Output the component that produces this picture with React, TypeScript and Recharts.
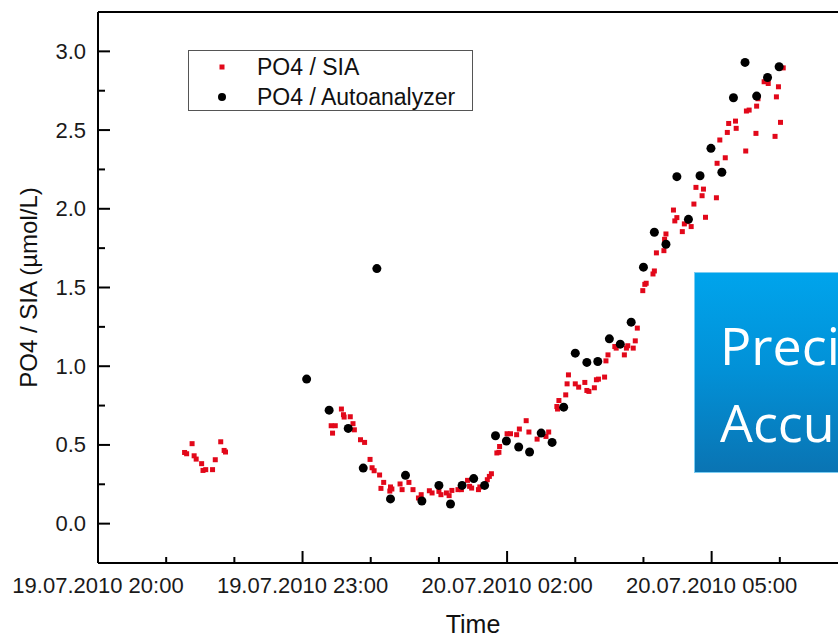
import React from 'react';
import { Legend, ReferenceLine, Scatter, ScatterChart, XAxis, YAxis } from 'recharts';

const FONT = '"Liberation Sans", Arial, Helvetica, sans-serif';
const RED = '#e2081a';

// hours after 19.07.2010 20:00
const siaTime = [
  1.27, 1.3, 1.38, 1.41, 1.44, 1.52, 1.54, 1.58, 1.68, 1.72, 1.8, 1.85, 1.87,
  3.42, 3.44, 3.48, 3.57, 3.6, 3.61, 3.7, 3.74, 3.76, 3.85, 3.91, 3.99, 4.02, 4.05,
  4.13, 4.15, 4.19, 4.28, 4.29, 4.31, 4.43, 4.46, 4.56, 4.62, 4.7, 4.74, 4.86, 4.9,
  5.0, 5.03, 5.11, 5.15, 5.19, 5.28, 5.33, 5.42, 5.45, 5.48, 5.58, 5.6, 5.71, 5.74,
  5.77, 5.85, 5.88, 5.89, 6.0, 6.05, 6.14, 6.18, 6.28, 6.32, 6.44, 6.57, 6.61, 6.73,
  6.74, 6.76, 6.86, 6.88, 6.9, 7.0, 7.05, 7.14, 7.17, 7.2, 7.28, 7.31, 7.34, 7.43,
  7.45, 7.48, 7.58, 7.6, 7.72, 7.75, 7.77, 7.85, 7.88, 7.91, 7.99, 8.02, 8.04, 8.14,
  8.16, 8.19, 8.3, 8.31, 8.33, 8.44, 8.46, 8.49, 8.57, 8.6, 8.64, 8.7, 8.74, 8.77,
  8.86, 8.88, 8.91, 9.07, 9.08, 9.12, 9.2, 9.23, 9.25, 9.35, 9.36, 9.5, 9.51, 9.55,
  9.65, 9.66, 9.68, 9.77, 9.8, 9.83, 9.93, 9.95, 9.98, 10.01, 10.05,
];
const siaValue = [
  0.452, 0.444, 0.508, 0.431, 0.41, 0.381, 0.338, 0.343, 0.343, 0.406, 0.52, 0.465, 0.455,
  0.622, 0.575, 0.622, 0.728, 0.692, 0.677, 0.679, 0.635, 0.596, 0.533, 0.516, 0.408, 0.355, 0.336,
  0.309, 0.224, 0.262, 0.207, 0.233, 0.22, 0.252, 0.216, 0.262, 0.216, 0.163, 0.184, 0.209, 0.195,
  0.205, 0.184, 0.195, 0.178, 0.211, 0.216, 0.216, 0.275, 0.237, 0.226, 0.216, 0.233, 0.279, 0.3,
  0.317, 0.449, 0.453, 0.49, 0.571, 0.571, 0.565, 0.601, 0.654, 0.582, 0.537, 0.554, 0.582, 0.744,
  0.728, 0.782, 0.818, 0.888, 0.945, 0.888, 0.867, 0.897, 0.846, 0.84, 0.863, 0.914, 0.918, 0.931,
  1.034, 1.072, 1.125, 1.115, 1.072, 1.115, 1.13, 1.115, 1.161, 1.242, 1.48, 1.52, 1.527, 1.586,
  1.605, 1.72, 1.734, 1.806, 1.84, 1.992, 1.923, 1.944, 1.855, 1.904, 1.918, 1.887, 2.03, 2.136,
  2.083, 2.125, 1.946, 2.07, 2.289, 2.437, 2.324, 2.485, 2.542, 2.557, 2.511, 2.367, 2.621, 2.627,
  2.479, 2.652, 2.699, 2.807, 2.813, 2.796, 2.46, 2.711, 2.775, 2.549, 2.895,
];

const aaTime = [
  3.06, 3.39, 3.67, 3.89, 4.09, 4.29, 4.51, 4.75, 5.0, 5.17, 5.34, 5.51, 5.67, 5.83,
  5.99, 6.17, 6.33, 6.5, 6.66, 6.83, 7.0, 7.17, 7.33, 7.5, 7.66, 7.82, 8.0, 8.16,
  8.33, 8.49, 8.66, 8.83, 8.99, 9.15, 9.32, 9.49, 9.66, 9.82, 9.99,
];
const aaValue = [
  0.918, 0.721, 0.605, 0.353, 1.62, 0.157, 0.307, 0.144, 0.243, 0.125, 0.243, 0.286, 0.243, 0.558,
  0.525, 0.487, 0.455, 0.575, 0.516, 0.74, 1.083, 1.024, 1.03, 1.174, 1.14, 1.28, 1.629, 1.851,
  1.775, 2.204, 1.933, 2.21, 2.384, 2.232, 2.705, 2.93, 2.716, 2.834, 2.902,
];

const xTicks = [0, 1, 2, 3, 4, 5, 6, 7, 8, 9, 10, 11];
const xLabels: Record<number, string> = {
  0: '19.07.2010 20:00',
  3: '19.07.2010 23:00',
  6: '20.07.2010 02:00',
  9: '20.07.2010 05:00',
};
const yTicks = [0, 0.25, 0.5, 0.75, 1, 1.25, 1.5, 1.75, 2, 2.25, 2.5, 2.75, 3];

const siaData = siaTime.map((t, i) => ({ t, v: siaValue[i] }));
const aaData = aaTime.map((t, i) => ({ t, v: aaValue[i] }));

const XTick = (props: any) => {
  const { x, y, payload } = props;
  const label = xLabels[payload.value];
  return (
    <g>
      <line x1={x} x2={x} y1={y} y2={y - (label ? 12 : 6)} stroke="#000" strokeWidth={2} />
      {label && (
        <text x={x} y={y + 30} textAnchor="middle" fontSize={22} fill="#1a1a1a" fontFamily={FONT}>
          {label}
        </text>
      )}
    </g>
  );
};

const YTick = (props: any) => {
  const { x, y, payload } = props;
  const v = payload.value;
  const major = Math.abs(v * 2 - Math.round(v * 2)) < 1e-6;
  return (
    <g>
      <line x1={x} x2={x + (major ? 12 : 7)} y1={y} y2={y} stroke="#000" strokeWidth={2} />
      {major && (
        <text x={x - 12} y={y + 7.5} textAnchor="end" fontSize={22} fill="#1a1a1a" fontFamily={FONT}>
          {v.toFixed(1)}
        </text>
      )}
    </g>
  );
};

const RedSquare = (props: any) => (
  <rect x={props.cx - 2.5} y={props.cy - 2.5} width={5} height={5} fill={RED} />
);
const BlackDot = (props: any) => <circle cx={props.cx} cy={props.cy} r={4.5} fill="#000" />;

const LegendBox = () => (
  <div
    style={{
      width: 285,
      height: 61,
      boxSizing: 'border-box',
      border: '1.5px solid #555',
      background: '#fff',
      position: 'relative',
    }}
  >
    <svg width={285} height={61} style={{ position: 'absolute', left: -1.5, top: -1.5 }}>
      <rect x={31.5} y={14.5} width={5} height={5} fill={RED} />
      <circle cx={34} cy={47} r={4} fill="#000" />
      <text x={69} y={25} fontSize={23} fontFamily={FONT} fill="#111">PO4 / SIA</text>
      <text x={69} y={55} fontSize={23} fontFamily={FONT} fill="#111">PO4 / Autoanalyzer</text>
    </svg>
  </div>
);

export default function App() {
  return (
    <div
      style={{
        position: 'absolute',
        left: 0,
        top: 0,
        width: 838,
        height: 638,
        overflow: 'hidden',
        background: '#fff',
      }}
    >
      <ScatterChart width={848} height={638} margin={{ top: 12, right: 0, bottom: 0, left: 0 }}>
        <XAxis
          type="number"
          dataKey="t"
          domain={[0, 11]}
          ticks={xTicks}
          interval={0}
          tickLine={false}
          tickSize={0}
          tickMargin={0}
          axisLine={{ stroke: '#000', strokeWidth: 2 }}
          height={75}
          tick={XTick}
          allowDataOverflow
          label={({ viewBox }: any) => (
            <text
              x={viewBox.x + viewBox.width / 2}
              y={633}
              textAnchor="middle"
              fontSize={25}
              fill="#111"
              fontFamily={FONT}
            >
              Time
            </text>
          )}
        />
        <YAxis
          type="number"
          dataKey="v"
          domain={[-0.25, 3.25]}
          ticks={yTicks}
          interval={0}
          width={98}
          tickLine={false}
          tickSize={0}
          tickMargin={0}
          axisLine={{ stroke: '#000', strokeWidth: 2 }}
          tick={YTick}
          allowDataOverflow
          label={({ viewBox }: any) => {
            const cy = viewBox.y + viewBox.height / 2;
            return (
              <text
                x={37}
                y={cy}
                transform={`rotate(-90, 37, ${cy})`}
                textAnchor="middle"
                fontSize={24}
                fill="#111"
                fontFamily={FONT}
              >
                PO4 / SIA (µmol/L)
              </text>
            );
          }}
        />
        <ReferenceLine y={3.25} stroke="#000" strokeWidth={2} />
        <Legend
          layout="horizontal"
          verticalAlign="middle"
          align="center"
          content={LegendBox}
          wrapperStyle={{ left: 188, top: 50, width: 285, height: 61 }}
        />
        <Scatter name="PO4 / SIA" data={siaData} shape={RedSquare} isAnimationActive={false} />
        <Scatter name="PO4 / Autoanalyzer" data={aaData} shape={BlackDot} isAnimationActive={false} />
      </ScatterChart>
      <div
        style={{
          position: 'absolute',
          left: 694,
          top: 272,
          width: 220,
          height: 201,
          boxSizing: 'border-box',
          border: '1px solid #7ccdf2',
          background: 'linear-gradient(to bottom, #00a4ec 0%, #0290d6 50%, #0a74b3 100%)',
          color: '#fff',
          fontFamily: '"Open Sans", Lato, sans-serif',
          fontSize: 52,
          lineHeight: '77px',
          paddingLeft: 25,
          paddingTop: 33,
          whiteSpace: 'nowrap',
        }}
      >
        <div>Precision</div>
        <div>Accuracy</div>
      </div>
    </div>
  );
}
